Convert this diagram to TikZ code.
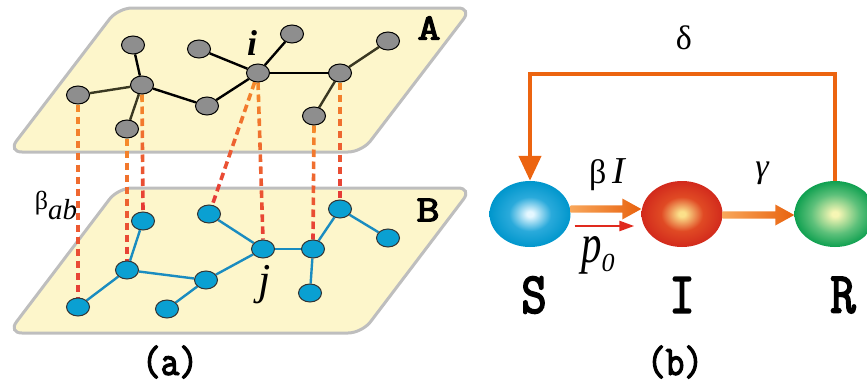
\documentclass[tikz,border=0pt]{standalone}
\usepackage{fontspec}
\newfontfamily\lib{Liberation Serif}
\newfontfamily\slab[FakeBold=3.2]{Latin Modern Mono}
\usetikzlibrary{shapes.geometric,calc,arrows.meta}
\definecolor{planefill}{HTML}{FDF6CB}
\definecolor{planedraw}{HTML}{BEBEBE}
\definecolor{ngray}{HTML}{8E8E8E}
\definecolor{nblue}{HTML}{0AA0D2}
\definecolor{eblue}{HTML}{1A8CC0}
\definecolor{olive}{HTML}{3A3822}
\definecolor{dorange}{HTML}{F5892B}
\definecolor{dred}{HTML}{E63B36}
\definecolor{arrL}{HTML}{F8A65A}
\definecolor{arrR}{HTML}{E8620E}
\definecolor{fbor}{HTML}{EC6410}
\definecolor{thinred}{HTML}{E02A1E}
\definecolor{sC}{HTML}{E4F7FF}\definecolor{sM}{HTML}{2AAADB}\definecolor{sE}{HTML}{0096CC}
\definecolor{iC}{HTML}{FBE08A}\definecolor{iM}{HTML}{E04A24}\definecolor{iE}{HTML}{D22A1C}
\definecolor{rC}{HTML}{F6F6B4}\definecolor{rM}{HTML}{5CC07A}\definecolor{rE}{HTML}{0FA050}
\pgfdeclareradialshading{ballS}{\pgfpoint{0bp}{0bp}}{color(0bp)=(sC); color(2bp)=(sC); color(13bp)=(sM); color(25bp)=(sE); color(50bp)=(sE)}
\pgfdeclareradialshading{ballI}{\pgfpoint{0bp}{0bp}}{color(0bp)=(iC); color(2bp)=(iC); color(13bp)=(iM); color(25bp)=(iE); color(50bp)=(iE)}
\pgfdeclareradialshading{ballR}{\pgfpoint{0bp}{0bp}}{color(0bp)=(rC); color(2bp)=(rC); color(15bp)=(rM); color(25bp)=(rE); color(50bp)=(rE)}
\pgfdeclarelayer{planes}\pgfdeclarelayer{links}
\pgfsetlayers{planes,links,main}
\newcommand\gdash[2]{%
  \path let \p1=(#1), \p2=(#2), \n1={veclen(\x2-\x1,\y2-\y1)} in \pgfextra{\pgfmathsetmacro\gtmp{\n1}\global\let\gLen\gtmp};%
  \pgfmathtruncatemacro\gN{\gLen/12}%
  \foreach \k in {0,...,\gN}{%
    \pgfmathsetmacro\gs{\k*12/\gLen}%
    \pgfmathsetmacro\ge{min(1,(\k*12+7.5)/\gLen)}%
    \pgfmathtruncatemacro\gp{100*\k/max(\gN,1)}%
    \colorlet{gcol}{dred!\gp!dorange}%
    \draw[line width=3.6pt,color=gcol] ($(#1)!\gs!(#2)$) -- ($(#1)!\ge!(#2)$);%
  }%
}
\newcommand\fatarrow[3]{%
  \shade[left color=arrL,right color=arrR] let \p1=(#1), \p2=(#2) in
    (\x1,\y1+#3+3.7pt) -- (\x2-19pt,\y1+#3+3.7pt) -- (\x2-19pt,\y1+#3+10.5pt) -- (\x2,\y1+#3)
    -- (\x2-19pt,\y1+#3-10.5pt) -- (\x2-19pt,\y1+#3-3.7pt) -- (\x1,\y1+#3-3.7pt) -- cycle;%
}
\tikzset{
  plane/.style={draw=planedraw,fill=planefill,line width=3pt,rounded corners=14pt},
  na/.style={ellipse,draw=black,line width=1pt,fill=ngray,minimum width=23pt,minimum height=18pt,inner sep=0pt},
  nb/.style={ellipse,draw=black!80,line width=1pt,fill=nblue,minimum width=23pt,minimum height=18pt,inner sep=0pt},
  ea/.style={line width=2.4pt,black},
  eo/.style={line width=2.4pt,olive},
  eb/.style={line width=2.4pt,eblue},
  ball/.style={ellipse,minimum width=81pt,minimum height=66pt,inner sep=0pt,shade},
  lbl/.style={inner sep=0pt},
}
\begin{document}
\begin{tikzpicture}[x=1pt,y=-1pt]
\useasboundingbox (0,0) rectangle (867,383);
% planes
\begin{pgfonlayer}{planes}
\draw[plane] (118,8) -- (472,8) -- (362,152) -- (8,152) -- cycle;
\draw[plane] (118,188) -- (472,188) -- (362,333) -- (8,333) -- cycle;
\end{pgfonlayer}
% layer A nodes
\node[na] (n1) at (78,95) {};
\node[na] (n2) at (133,45) {};
\node[na] (n3) at (142,85) {};
\node[na] (n4) at (127,129) {};
\node[na] (n5) at (199,49) {};
\node[na] (n6) at (207,106) {};
\node[na] (n7) at (258,73) {};
\node[na] (n8) at (292,34) {};
\node[na] (n9) at (340,73) {};
\node[na] (n10) at (388,41) {};
\node[na] (n11) at (314,116) {};
% layer B nodes
\node[nb] (m1) at (78,307) {};
\node[nb] (m2) at (127,270) {};
\node[nb] (m3) at (143,221) {};
\node[nb] (m4) at (209,214) {};
\node[nb] (m5) at (206,280) {};
\node[nb] (m6) at (167,309) {};
\node[nb] (m7) at (263,249) {};
\node[nb] (m8) at (313,249) {};
\node[nb] (m9) at (340,209) {};
\node[nb] (m10) at (388,238) {};
\node[nb] (m11) at (310,293) {};
\begin{pgfonlayer}{links}
\draw[eo] (n1) -- (n3);
\draw[ea] (n2) -- (n3);
\draw[eo] (n3) -- (n4);
\draw[ea] (n3) -- (n6);
\draw[ea] (n6) -- (n7);
\draw[ea] (n5) -- (n7);
\draw[ea] (n7) -- (n8);
\draw[ea] (n7) -- (n9);
\draw[eo] (n9) -- (n10);
\draw[eo] (n9) -- (n11);
\draw[eb] (m1) -- (m2);
\draw[eb] (m2) -- (m3);
\draw[eb] (m2) -- (m5);
\draw[eb] (m5) -- (m6);
\draw[eb] (m5) -- (m7);
\draw[eb] (m4) -- (m7);
\draw[eb] (m7) -- (m8);
\draw[eb] (m8) -- (m9);
\draw[eb] (m9) -- (m10);
\draw[eb] (m8) -- (m11);
\gdash{n1.south}{m1.north}
\gdash{n4.south}{m2.north}
\gdash{n3.south}{m3.north}
\gdash{n7.250}{m4.70}
\gdash{n7.south}{m7.north}
\gdash{n11.south}{m8.north}
\gdash{n9.south}{m9.north}
\end{pgfonlayer}
% labels (a)
\node[lbl,font=\lib\bfseries\itshape\fontsize{36}{36}\selectfont] (li) at (252,43) {i};
\node[lbl,font=\lib\itshape\fontsize{44}{44}\selectfont] (lj) at (265,285) {j};
\node[lbl] (lA) at (429,28) {\scalebox{1.2}[1]{\fontsize{37}{37}\selectfont\slab A}};
\node[lbl] (lB) at (428,210) {\scalebox{1.2}[1]{\fontsize{37}{37}\selectfont\slab B}};
\node[lbl] (lbeta) at (56,205) {\lib\fontsize{26}{26}\selectfont β\raisebox{-10pt}{\fontsize{29}{29}\selectfont\itshape ab}};
\node[lbl] (la) at (170,362) {\scalebox{0.86}[1]{\fontsize{42}{42}\selectfont\slab (a)}};
% part (b)
\node[ball,shading=ballS] (S) at (530,214) {};
\node[ball,shading=ballI] (I) at (682,214) {};
\node[ball,shading=ballR] (R) at (835,214) {};
\coordinate (top) at (683,74);
\draw[fbor,line width=4.3pt,-{Triangle[length=25pt,width=22pt]}] (R.north) -- (R.north |- top) -- (S.north |- top) -- (S.north);
\fatarrow{S.east}{I.west}{5pt}
\fatarrow{I.east}{R.west}{-1pt}
\draw[thinred,line width=2.5pt,-{Triangle[length=15pt,width=10pt]}] ([xshift=4pt,yshift=-12pt]S.east) -- ([xshift=-7pt,yshift=-12pt]I.west);
\node[lbl] (ldelta) at (684,38) {\lib\fontsize{34}{34}\selectfont δ};
\node[lbl] (lbI) at (607,175) {\lib\fontsize{34}{34}\selectfont β\,\itshape\fontsize{38}{38}\selectfont I};
\node[lbl] (lgamma) at (762,173) {\lib\itshape\fontsize{34}{34}\selectfont γ};
\node[lbl] (lp) at (598,255) {\lib\itshape\scalebox{0.85}[1.15]{\fontsize{48}{48}\selectfont p}\raisebox{-9pt}{\fontsize{26}{26}\selectfont 0}};
\node[lbl] (lS) at (534,295) {\scalebox{0.85}[1]{\fontsize{58}{58}\selectfont\slab S}};
\node[lbl] (lI) at (682,295) {\scalebox{0.85}[1]{\fontsize{58}{58}\selectfont\slab I}};
\node[lbl] (lR) at (843,295) {\scalebox{0.85}[1]{\fontsize{58}{58}\selectfont\slab R}};
\node[lbl] (lb) at (675,362) {\scalebox{0.86}[1]{\fontsize{42}{42}\selectfont\slab (b)}};
\end{tikzpicture}
\end{document}
